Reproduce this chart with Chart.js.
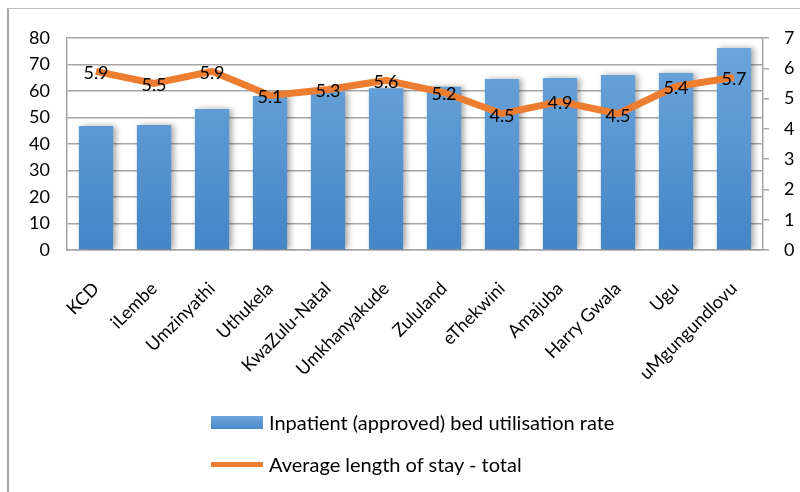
<!DOCTYPE html>
<html>
<head>
<meta charset="utf-8">
<script src="https://cdn.jsdelivr.net/npm/chart.js@4.4.1/dist/chart.umd.min.js"></script>
<style>
  html, body { margin: 0; padding: 0; background: #fff; }
  #wrap { position: relative; width: 800px; height: 492px; overflow: hidden; }
  #chart { position: absolute; left: 0; top: 0; }
  #frame { position: absolute; left: 7px; top: 8px; width: 800px; height: 500px;
           border-left: 2px solid #a6a6a6; border-top: 1px solid #bfbfbf; pointer-events: none; }
  .legend-row { position: absolute; left: 211px; height: 30px; display: flex; align-items: center;
                font-family: Lato, "Noto Sans", sans-serif; font-size: 20px; color: #000; white-space: nowrap; }
  .legend-row .swatch { width: 52px; margin-right: 6px; }
</style>
</head>
<body>
<div id="wrap">
  <canvas id="chart" width="800" height="492"></canvas>
  <div id="frame"></div>
  <div class="legend-row" style="top:407px;">
    <span class="swatch" style="height:13px;background:linear-gradient(#6ea6dc,#4a89c8);"></span>
    <span>Inpatient (approved) bed utilisation rate</span>
  </div>
  <div class="legend-row" style="top:449px;">
    <span class="swatch" style="height:5px;background:#ed7d31;"></span>
    <span>Average length of stay - total</span>
  </div>
</div>
<script>
// district names along the x axis
const districts = ["KCD", "iLembe", "Umzinyathi", "Uthukela", "KwaZulu-Natal", "Umkhanyakude",
  "Zululand", "eThekwini", "Amajuba", "Harry Gwala", "Ugu", "uMgungundlovu"];
// bed utilisation rate (%), left axis
const bedUtilisation = [46.8, 47.2, 53.2, 58.1, 59.7, 61.0, 61.6, 64.5, 64.9, 66.0, 66.8, 76.2];
// average length of stay (days), right axis
const lengthOfStay = [5.9, 5.5, 5.9, 5.1, 5.3, 5.6, 5.2, 4.5, 4.9, 4.5, 5.4, 5.7];

const FONT = { family: 'Lato, "Noto Sans", sans-serif', size: 18 };

// blue bar fill, lighter at the top
function barGradient(context) {
  const area = context.chart.chartArea;
  if (!area) return '#5b9bd5';
  const g = context.chart.ctx.createLinearGradient(0, area.top, 0, area.bottom);
  g.addColorStop(0, '#6ea6dc');
  g.addColorStop(1, '#4485c6');
  return g;
}

// soft shadow behind the bars
const barShadow = {
  id: 'barShadow',
  beforeDatasetDraw(chart, args) {
    if (args.index !== 0) return;
    const ctx = chart.ctx;
    ctx.save();
    ctx.shadowColor = 'rgba(0,0,0,0.35)';
    ctx.shadowBlur = 6;
    ctx.shadowOffsetX = 3;
    ctx.shadowOffsetY = 0;
  },
  afterDatasetDraw(chart, args) {
    if (args.index === 0) chart.ctx.restore();
  }
};

// value labels on the line points
const lineLabels = {
  id: 'lineLabels',
  afterDatasetsDraw(chart) {
    const meta = chart.getDatasetMeta(1);
    const ctx = chart.ctx;
    ctx.save();
    ctx.font = FONT.size + 'px ' + FONT.family;
    ctx.fillStyle = '#000';
    ctx.textAlign = 'center';
    ctx.textBaseline = 'middle';
    meta.data.forEach((pt, i) => {
      ctx.fillText(lengthOfStay[i].toFixed(1), pt.x, pt.y + 2);
    });
    ctx.restore();
  }
};

new Chart(document.getElementById('chart'), {
  data: {
    labels: districts,
    datasets: [{
      type: 'bar',
      label: 'Inpatient (approved) bed utilisation rate',
      data: bedUtilisation,
      backgroundColor: barGradient,
      yAxisID: 'y',
      categoryPercentage: 1,
      barPercentage: 0.59,
      order: 1
    }, {
      type: 'line',
      label: 'Average length of stay - total',
      data: lengthOfStay,
      borderColor: '#ed7d31',
      borderWidth: 7,
      pointRadius: 0,
      tension: 0,
      yAxisID: 'y1',
      order: 0
    }]
  },
  options: {
    responsive: false,
    animation: false,
    events: [],
    layout: { padding: { left: 0, right: 0, top: 38, bottom: 0 } },
    plugins: {
      legend: { display: false },
      tooltip: { enabled: false }
    },
    scales: {
      x: {
        grid: { display: false },
        border: { display: true, color: '#a6a6a6', width: 1.5 },
        ticks: { color: '#000', font: FONT, minRotation: 45, maxRotation: 45, padding: 20 },
        afterFit(scale) { scale.height = 242; }
      },
      y: {
        position: 'left',
        min: 0, max: 80,
        ticks: { stepSize: 10, color: '#000', font: FONT, padding: 17 },
        grid: { color: '#a6a6a6', lineWidth: 1.5, drawTicks: false },
        border: { display: true, color: '#a6a6a6', width: 1.5 },
        afterFit(scale) { scale.width = 67; }
      },
      y1: {
        position: 'right',
        min: 0, max: 7,
        ticks: { stepSize: 1, color: '#000', font: FONT, padding: 15 },
        grid: { drawOnChartArea: false, drawTicks: true, tickLength: 6, color: '#a6a6a6', lineWidth: 1.5 },
        border: { display: true, color: '#a6a6a6', width: 1.5 },
        afterFit(scale) { scale.width = 37; }
      }
    }
  },
  plugins: [barShadow, lineLabels]
});
</script>
</body>
</html>
